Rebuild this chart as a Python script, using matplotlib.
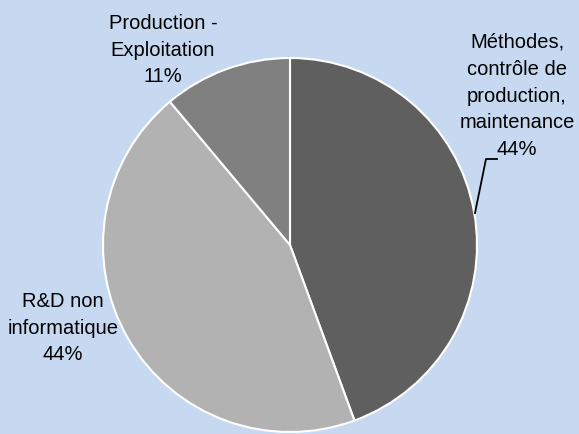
import matplotlib.pyplot as plt

labels = ['Méthodes,\ncontrôle de\nproduction,\nmaintenance\n44%',
          'R&D non\ninformatique\n44%',
          'Production -\nExploitation\n11%']
values = [44.4, 44.5, 11.1]
colors = ['#5f5f5f', '#b2b2b2', '#808080']

plt.rcParams['font.family'] = ['Liberation Sans', 'DejaVu Sans']

fig = plt.figure(figsize=(5.79, 4.34), dpi=100, facecolor='#c6d9f1')
ax = fig.add_axes([0, 0, 1, 1])
ax.set_facecolor('#c6d9f1')

# pixel-like coordinates, y measured from the bottom
cx, cy, r = 290, 434 - 245, 187
ax.pie(values, colors=colors, startangle=90, counterclock=False,
       center=(cx, cy), radius=r,
       wedgeprops=dict(edgecolor='white', linewidth=1.5))
ax.set_xlim(0, 579)
ax.set_ylim(0, 434)
ax.set_aspect('auto')
ax.axis('off')

ax.text(517, 434 - 96, labels[0], ha='center', va='center',
        fontsize=14.5, linespacing=1.52)
ax.text(63, 434 - 328, labels[1], ha='center', va='center',
        fontsize=14.5, linespacing=1.52)
ax.text(163, 434 - 50, labels[2], ha='center', va='center',
        fontsize=14.5, linespacing=1.52)

# leader line for the first label
ax.plot([475, 486, 497], [434 - 213, 434 - 159, 434 - 159],
        color='black', linewidth=1.3)

fig.savefig('out.png', dpi=100, facecolor=fig.get_facecolor())
